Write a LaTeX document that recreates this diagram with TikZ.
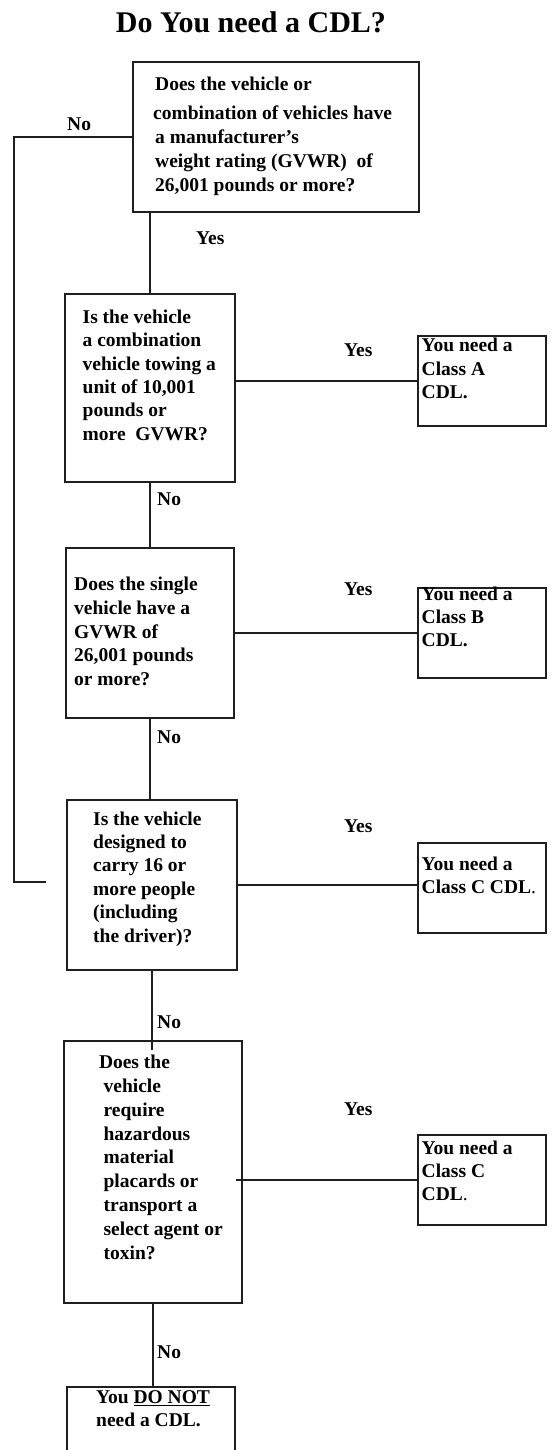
\documentclass[tikz,border=0pt]{standalone}
\usepackage{fontspec}
\setmainfont{Liberation Serif}
\usepackage{tikz}
\usetikzlibrary{positioning}
\usetikzlibrary{calc}
\definecolor{lineblack}{rgb}{0.12, 0.12, 0.12}

\begin{document}
\begin{tikzpicture}[x=1pt, y=-1pt,
    qbox/.style={draw=lineblack, line width=2pt, inner sep=0pt},
    qtext/.style={anchor=base west, align=left, inner sep=0pt,
      font=\fontsize{19.5}{#1}\selectfont\bfseries},
    qtext/.default=23.4,
    lab/.style={anchor=base west, inner sep=0pt,
      font=\fontsize{19.5}{23.4}\selectfont\bfseries},
    link/.style={draw=lineblack, line width=2pt}]
    \useasboundingbox (0,0) rectangle (553,1450);
    \clip (0,0) rectangle (553,1450);

    \node(title) [anchor=base, inner sep=0pt] at (251,33)
      {\fontsize{30}{36}\selectfont\bfseries Do You need a CDL?};

    \node(q1) [qbox, minimum width=286pt, minimum height=150pt] at (276,137) {};
    \node(q2) [qbox, minimum width=170pt, minimum height=188pt] at (150,388) {};
    \node(q3) [qbox, minimum width=168pt, minimum height=170pt] at (150,633) {};
    \node(q4) [qbox, minimum width=170pt, minimum height=170pt] at (152,885) {};
    \node(q5) [qbox, minimum width=178pt, minimum height=262pt] at (153,1172) {};
    \node(r6) [qbox, minimum width=168pt, minimum height=84pt] at (151,1429) {};

    \node(rA) [qbox, minimum width=128pt, minimum height=90pt] at (482,381) {};
    \node(rB) [qbox, minimum width=128pt, minimum height=90pt] at (482,633) {};
    \node(rC1) [qbox, minimum width=128pt, minimum height=90pt] at (482,888) {};
    \node(rC2) [qbox, minimum width=128pt, minimum height=90pt] at (482,1180) {};

    % text nodes sit on the baseline of their last line
    \node(q1t) [qtext=24] at (155,191.5) {Does the vehicle or\\[4.5pt]\hspace*{-2pt}combination of vehicles have\\a manufacturer's\\weight rating (GVWR)\ \ of\\26,001 pounds or more?};
    \node(q2t) [qtext] at (82.5,440.3) {Is the vehicle\\a combination\\vehicle towing a\\unit of 10,001\\pounds or\\more\ \ GVWR?};
    \node(q3t) [qtext=23.7] at (74,685.5) {Does the single\\vehicle have a\\GVWR of\\26,001 pounds\\or more?};
    \node(q4t) [qtext] at (93,942) {Is the vehicle\\designed to\\carry 16 or\\more people\\(including\\the driver)?};
    \node(q5t) [qtext=23.9] at (103.4,1259.5) {\hspace*{-4.6pt}Does the\\vehicle\\require\\hazardous\\material\\placards or\\transport a\\select agent or\\toxin?};
    \node(r6t) [qtext=22.5] at (96,1426) {You \underline{DO NOT}\\need a CDL.};

    \node(rAt) [qtext] at (421.5,398.5) {You need a\\Class A\\CDL.};
    \node(rBt) [qtext] at (421.5,646.8) {You need a\\Class B\\CDL.};
    \node(rC1t) [qtext] at (421.5,893.4) {You need a\\Class C CDL{\mdseries .}};
    \node(rC2t) [qtext] at (421.5,1200.8) {You need a\\Class C\\CDL{\mdseries .}};

    \node(no1) [lab] at (67,131) {No};
    \node(yes1) [lab] at (196,244) {Yes};
    \node(yes2) [lab] at (344,356.7) {Yes};
    \node(no2) [lab] at (157,505) {No};
    \node(yes3) [lab] at (344,595) {Yes};
    \node(no3) [lab] at (157,743) {No};
    \node(yes4) [lab] at (344,832) {Yes};
    \node(no4) [lab] at (157,1028) {No};
    \node(yes5) [lab] at (344,1115) {Yes};
    \node(no5) [lab] at (157,1358) {No};

    \coordinate (turn) at (14,882);
    \coordinate (noend) at (46,882);

    \draw[link] (q1.south -| q2.north) -- (q2.north);
    \draw[link] (q2.south) -- (q2.south |- q3.north);
    \draw[link] (q3.south) -- (q3.south |- q4.north);
    \draw[link] (q4.south) -- ($(q4.south |- q5.north)+(0,10)$);
    \draw[link] (q5.south) -- (q5.south |- r6.north);

    \draw[link] (q2.east |- rA.west) -- (rA.west);
    \draw[link] (q3.east) -- (q3.east -| rB.west);
    \draw[link] (q4.east) -- (q4.east -| rC1.west);
    \draw[link] ($(rC2.west -| q5.east)+(-7,0)$) -- (rC2.west);

    \draw[link] (q1.west) -| (turn) -- (noend);
    % \draw[help lines, step=50] (0,0) grid (553,1450);
\end{tikzpicture}
\end{document}
